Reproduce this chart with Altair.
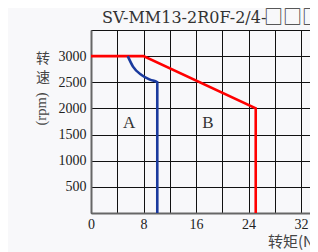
import altair as alt
import pandas as pd

# Data
red_torque = [0, 8, 25.1, 25.1]
red_speed = [3000, 3000, 2000, 0]
blue_torque = [5.6, 6.4, 7.7, 9.0, 10.1, 10.1]
blue_speed = [3000, 2800, 2640, 2550, 2500, 0]
region_labels = ["A", "B"]
region_torque = [5.8, 17.8]
region_speed = [1730, 1730]
x_ticks = [0, 4, 8, 12, 16, 20, 24, 28, 32]
y_ticks = [0, 500, 1000, 1500, 2000, 2500, 3000, 3500]
title_text = "SV-MM13-2R0F-2/4-"
title_boxes = "□□□"

red_df = pd.DataFrame({"t": red_torque, "s": red_speed, "o": list(range(len(red_torque)))})
blue_df = pd.DataFrame({"t": blue_torque, "s": blue_speed, "o": list(range(len(blue_torque)))})
lab_df = pd.DataFrame({"t": region_torque, "s": region_speed, "l": region_labels})

PLOT_W = 219
XD = [0, PLOT_W / 6.5625]
YD = [0, 3500]
SERIF = "Liberation Serif"
CJK = "Noto Sans CJK SC"

xs = alt.Scale(domain=XD, nice=False, zero=False)
ys = alt.Scale(domain=YD, nice=False)

x_axis = alt.Axis(values=x_ticks, labelExpr="datum.value % 8 == 0 ? datum.value : ''",
                  grid=True, gridColor="#111111", gridWidth=1, gridOpacity=1,
                  ticks=False, domainColor="#666666", domainWidth=2,
                  labelFont=SERIF, labelFontSize=14, labelColor="#222222",
                  labelPadding=4, title=None, labelFlush=False)
y_axis = alt.Axis(values=y_ticks, labelExpr="datum.value == 0 || datum.value == 3500 ? '' : datum.value",
                  grid=True, gridColor="#111111", gridWidth=1, gridOpacity=1,
                  ticks=False, domainColor="#666666", domainWidth=2,
                  labelFont=SERIF, labelFontSize=14, labelColor="#222222",
                  labelPadding=5, title=None)

X = alt.X("t:Q", scale=xs, axis=x_axis)
Y = alt.Y("s:Q", scale=ys, axis=y_axis)

red = alt.Chart(red_df).mark_line(color="#ff0000", strokeWidth=2.6).encode(
    x=X, y=Y, order="o:Q",
)
blue = alt.Chart(blue_df).mark_line(color="#1a3a9e", strokeWidth=2.6, interpolate="monotone").encode(
    x=X, y=Y, order="o:Q",
)
labels = alt.Chart(lab_df).mark_text(font=SERIF, fontSize=17, color="#333333").encode(
    x=X, y=Y, text="l:N",
)

def txt(s, x, y, **kw):
    return alt.Chart(pd.DataFrame({"v": [s]})).mark_text(**kw).encode(
        x=alt.value(x), y=alt.value(y), text="v:N")

title = txt(title_text, 11, -12, align="left", baseline="middle", font="DejaVu Serif", fontSize=16, color="#333333")
boxes = txt(title_boxes, 173, -12, align="left", baseline="middle", font=CJK, fontSize=19, color="#333333")
yt1 = txt("转", -48, 29, align="center", baseline="middle", font=CJK, fontSize=14, color="#444444")
yt2 = txt("速", -48, 48, align="center", baseline="middle", font=CJK, fontSize=14, color="#444444")
yt3 = txt("(rpm)", -49.5, 79, align="center", baseline="middle", angle=270, font=SERIF, fontSize=14.5, color="#444444")
xt = txt("转矩(N.m)", 177, 212, align="left", baseline="middle", font=CJK, fontSize=15, color="#444444")

chart = alt.layer(red, blue, labels, title, boxes, yt1, yt2, yt3, xt).properties(
    width=PLOT_W, height=183,
    autosize=alt.AutoSizeParams(type="none"),
    padding={"left": 83, "top": 22, "right": 0, "bottom": 39},
    background="#f8f8fa",
).configure_view(stroke=None)

chart.save("out.html", embed_options={"renderer": "svg", "actions": False})
